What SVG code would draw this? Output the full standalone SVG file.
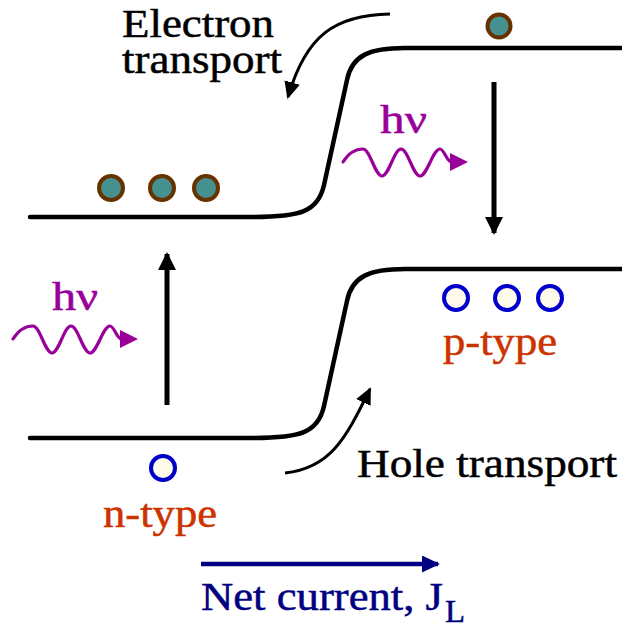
<svg xmlns="http://www.w3.org/2000/svg" xmlns:xlink="http://www.w3.org/1999/xlink" width="622" height="628" viewBox="0 0 622 628">
<style>
text { font-family: "Liberation Serif", "Times New Roman", serif; font-size: 40px; stroke-width: 0.5; }
.blk { fill: #000000; stroke: #000000; }
.pur { fill: #990099; stroke: #990099; }
.org { fill: #CC3300; stroke: #CC3300; }
.nav { fill: #000080; stroke: #000080; }
.band { fill: none; stroke: #000000; stroke-width: 4.5; stroke-linecap: round; stroke-linejoin: round; }
.elec { fill: #44918F; stroke: #663300; stroke-width: 4; }
.hole { fill: #FFFBEA; stroke: #0000CC; stroke-width: 4; }
.wave { fill: none; stroke: #990099; stroke-width: 3.2; stroke-linecap: round; }
.arr { fill: none; stroke: #000000; stroke-width: 5; }
.carr { fill: none; stroke: #000000; stroke-width: 3; }
.narr { fill: none; stroke: #000080; stroke-width: 4.5; }
</style>
<defs>
<marker id="ahBlk" markerUnits="userSpaceOnUse" markerWidth="18" markerHeight="18" viewBox="0 0 18 18" refX="16" refY="9" orient="auto">
<path d="M0,0 L18,9 L0,18 z" fill="#000000"/>
</marker>
<marker id="ahCur" markerUnits="userSpaceOnUse" markerWidth="17" markerHeight="16" viewBox="0 0 17 16" refX="15" refY="8" orient="auto">
<path d="M0,0 L17,8 L0,16 z" fill="#000000"/>
</marker>
<marker id="ahNav" markerUnits="userSpaceOnUse" markerWidth="18" markerHeight="17" viewBox="0 0 18 17" refX="16" refY="8.5" orient="auto">
<path d="M0,0 L18,8.5 L0,17 z" fill="#000080"/>
</marker>
<g id="photon">
<path class="wave" d="M0,0 C5,-8 12,-13 20,-13 C27,-13 32,14 39,14 C46,14 51,-13 58,-13 C65,-13 70,14 77,14 C84,14 90,-13 97,-13 C101,-13 103,-2 108,0"/>
<path d="M107,-9 L125,0 L107,9 z" fill="#990099"/>
</g>
<path id="bandShape" class="band" d="M30,217 H252 C300,217 318,212 324,185 L347,80 C352,55 370,48 405,48 H622"/>
</defs>
<rect width="622" height="628" fill="#FFFFFF"/>

<g id="conduction-band">
<use xlink:href="#bandShape" href="#bandShape"/>
</g>
<g id="valence-band">
<use xlink:href="#bandShape" href="#bandShape" transform="translate(0,221)"/>
</g>

<g id="electrons-n">
<circle class="elec" cx="111" cy="188" r="12"/>
<circle class="elec" cx="162" cy="188" r="12"/>
<circle class="elec" cx="206" cy="188" r="12"/>
</g>
<g id="electron-p">
<circle class="elec" cx="499" cy="26" r="11.5"/>
</g>
<g id="holes-p">
<circle class="hole" cx="456" cy="298" r="12"/>
<circle class="hole" cx="507" cy="298" r="12"/>
<circle class="hole" cx="550" cy="298" r="12"/>
</g>
<g id="hole-n">
<circle class="hole" cx="163" cy="468" r="12"/>
</g>

<g id="photon-top">
<use xlink:href="#photon" href="#photon" transform="translate(343,162)"/>
<text class="pur" x="380" y="133" textLength="47" lengthAdjust="spacingAndGlyphs">hν</text>
</g>
<g id="photon-left">
<use xlink:href="#photon" href="#photon" transform="translate(13,339)"/>
<text class="pur" x="52" y="310" textLength="46" lengthAdjust="spacingAndGlyphs">hν</text>
</g>

<g id="label-electron-transport">
<text class="blk" x="122" y="37" textLength="152" lengthAdjust="spacingAndGlyphs">Electron</text>
<text class="blk" x="122" y="73" textLength="160" lengthAdjust="spacingAndGlyphs">transport</text>
</g>
<g id="label-hole-transport">
<text class="blk" x="357" y="477" textLength="260" lengthAdjust="spacingAndGlyphs">Hole transport</text>
</g>
<g id="label-p-type">
<text class="org" x="443" y="355" textLength="114" lengthAdjust="spacingAndGlyphs">p-type</text>
</g>
<g id="label-n-type">
<text class="org" x="103" y="527" textLength="114" lengthAdjust="spacingAndGlyphs">n-type</text>
</g>
<g id="label-net-current">
<text class="nav" x="201" y="610" textLength="242" lengthAdjust="spacingAndGlyphs">Net current, J</text>
<text class="nav" x="445" y="622" style="font-size:32px" textLength="20" lengthAdjust="spacingAndGlyphs">L</text>
</g>

<g id="connectors">
<path class="arr" d="M167,405 V254" marker-end="url(#ahBlk)"/>
<path class="arr" d="M494,82 V233" marker-end="url(#ahBlk)"/>
<path class="carr" d="M390,14 C335,15 306,35 288,97" marker-end="url(#ahCur)"/>
<path class="carr" d="M285,473 C330,468 345,440 370,389" marker-end="url(#ahCur)"/>
<path class="narr" d="M201,564 H438" marker-end="url(#ahNav)"/>
</g>
</svg>
